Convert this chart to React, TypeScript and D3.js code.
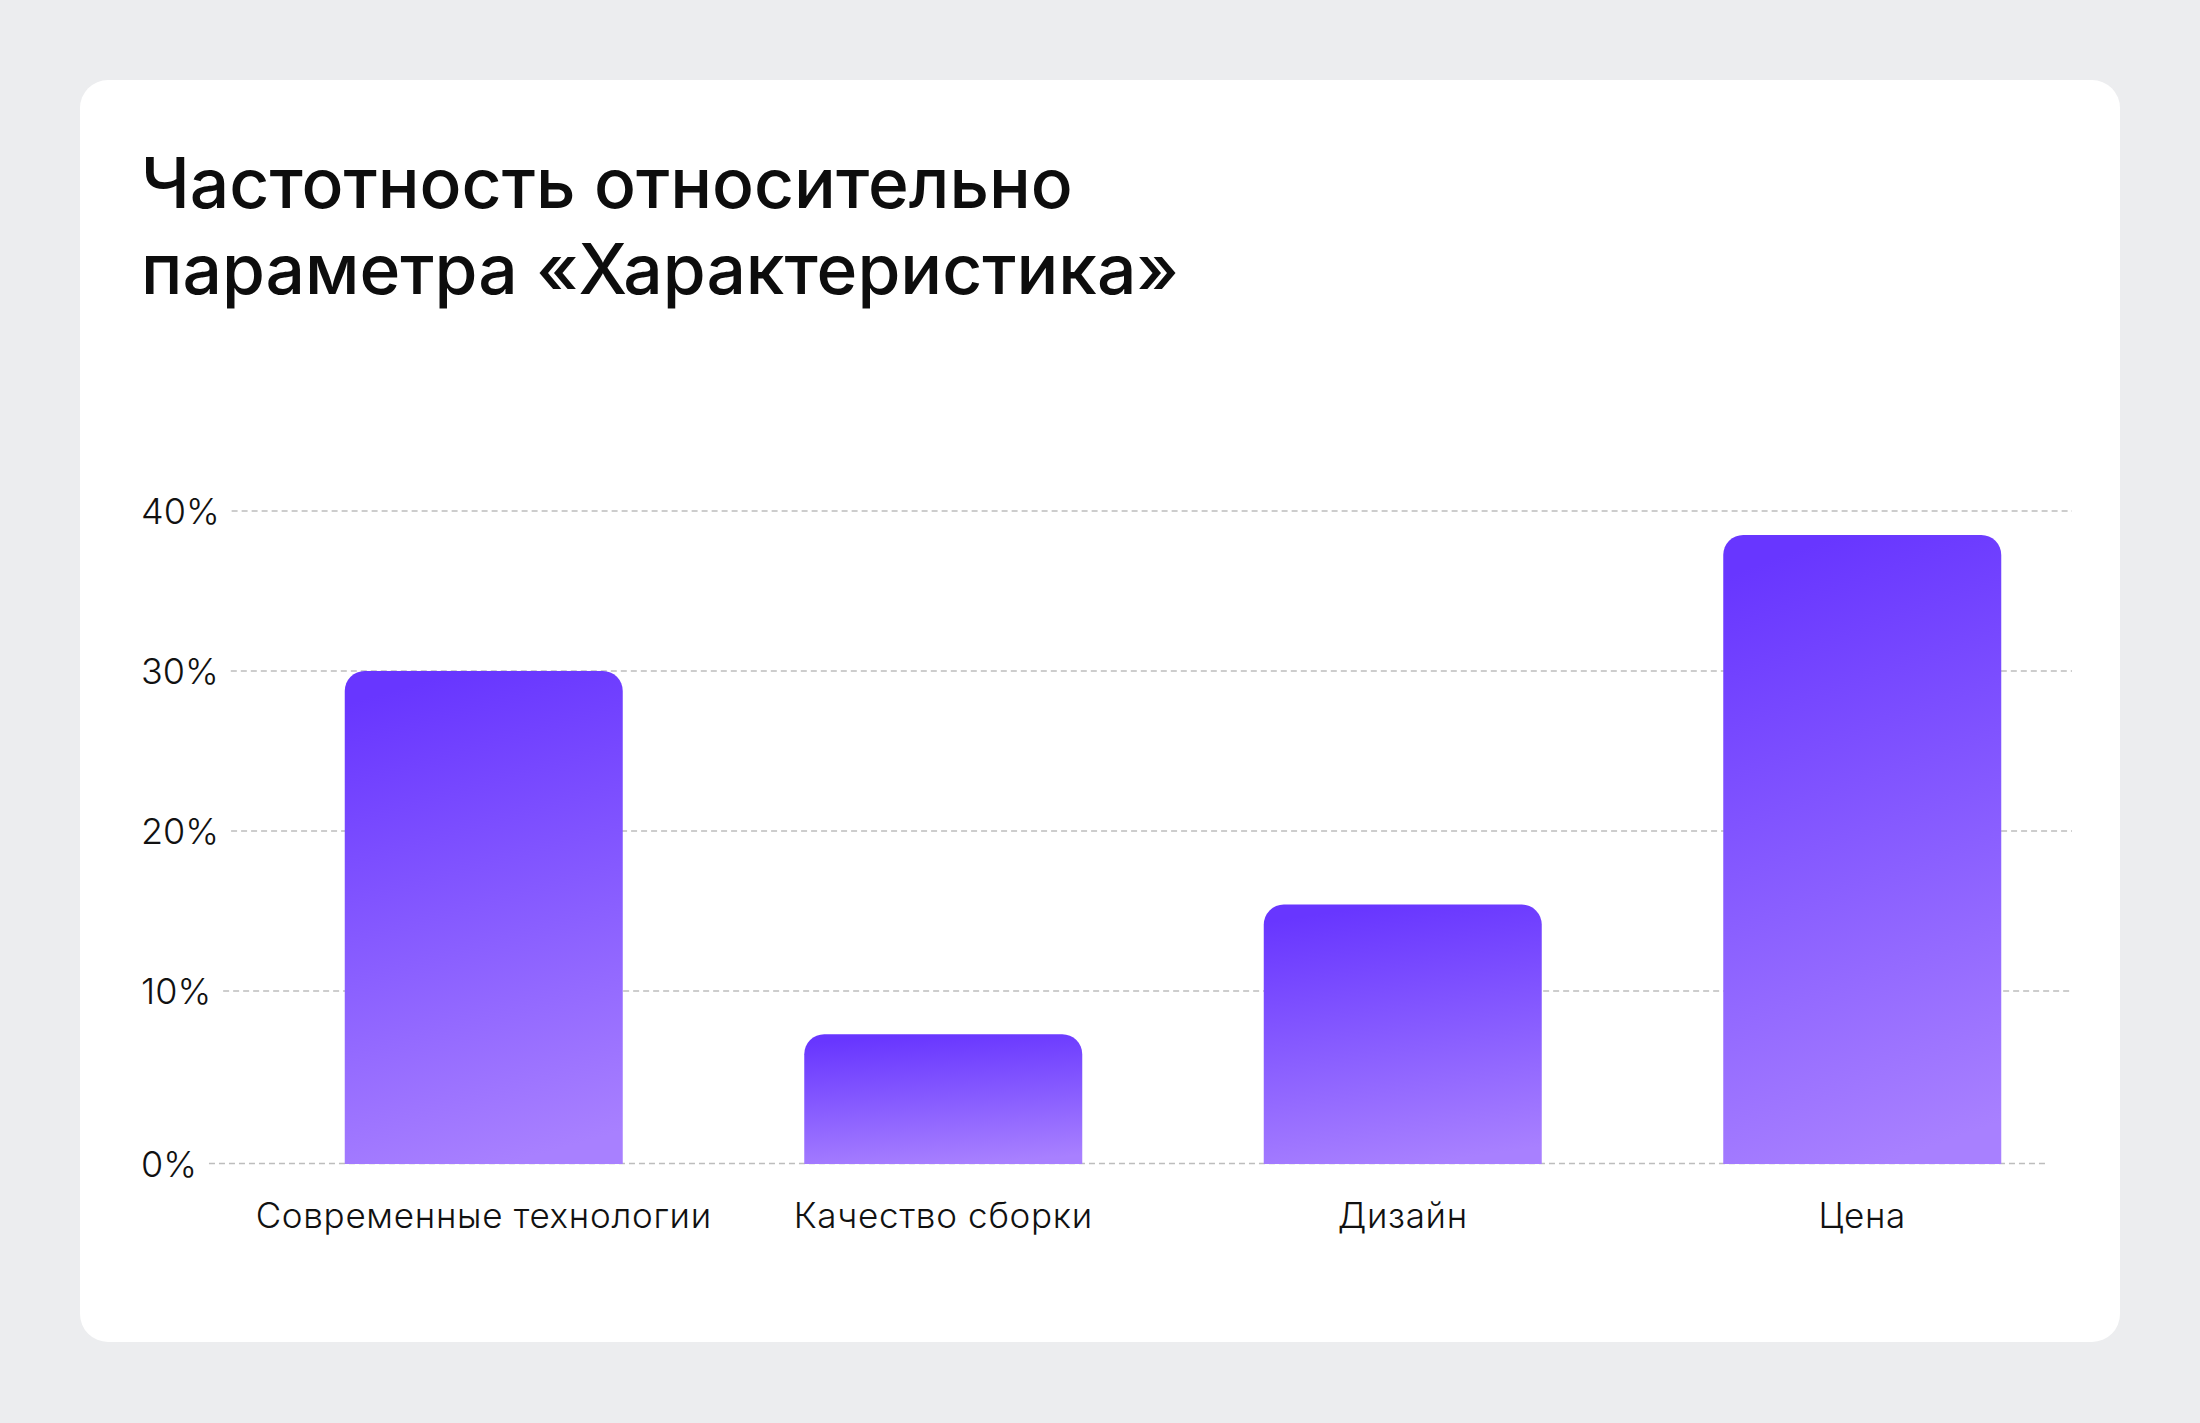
import React, { useEffect, useRef } from "react";
import * as d3 from "d3";

const categories = ["Современные технологии", "Качество сборки", "Дизайн", "Цена"];
const values = [30, 7.3, 15.4, 38.5];
const ticks = [0, 10, 20, 30, 40];
const titleLines = ["Частотность относительно", "параметра «Характеристика»"];

const W = 2200;
const H = 1423;

export default function App() {
  const ref = useRef<SVGSVGElement | null>(null);

  useEffect(() => {
    document.body.style.margin = "0";
    const svg = d3.select(ref.current);
    svg.selectAll("*").remove();

    const defs = svg.append("defs");
    const grad = defs
      .append("linearGradient")
      .attr("id", "barGrad")
      .attr("x1", 0.42)
      .attr("y1", 0)
      .attr("x2", 0.58)
      .attr("y2", 1);
    grad.append("stop").attr("offset", "0%").attr("stop-color", "#6836FF");
    grad.append("stop").attr("offset", "55%").attr("stop-color", "#8A5FFF");
    grad.append("stop").attr("offset", "100%").attr("stop-color", "#A880FF");

    svg.append("rect").attr("width", W).attr("height", H).attr("fill", "#ECEDEF");
    svg
      .append("rect")
      .attr("x", 80)
      .attr("y", 80)
      .attr("width", 2040)
      .attr("height", 1262)
      .attr("rx", 28)
      .attr("fill", "#ffffff");

    // Title
    const title = svg
      .append("text")
      .attr("font-family", "Inter, 'Noto Sans', sans-serif")
      .attr("font-size", 69.5)
      .attr("font-weight", 500)
      .attr("fill", "#0d0d0d");
    titleLines.forEach((t, i) => {
      title
        .append("tspan")
        .attr("x", 141)
        .attr("y", 208 + i * 86)
        .text(t);
    });

    const y = d3.scaleLinear().domain([0, 40]).range([1151, 511]);
    const baseline = 1164;
    const x = d3.scalePoint<string>().domain(categories).range([254, 2092]).padding(0.5);
    const barW = 278;
    const r = 20;

    // Y ticks and gridlines
    const tg = svg.append("g");
    ticks.forEach((t) => {
      const gy = t === 0 ? baseline - 0.5 : y(t);
      const label = tg
        .append("text")
        .attr("x", 141)
        .attr("y", gy + 13)
        .attr("font-family", "Inter, 'Noto Sans', sans-serif")
        .attr("font-size", 36)
        .attr("font-weight", 300)
        .attr("fill", "#111")
        .text(`${t}%`);
      const node = label.node() as SVGTextElement;
      const lw = node.getComputedTextLength();
      tg.append("line")
        .attr("x1", 141 + lw + 12)
        .attr("x2", t === 0 ? 2048 : 2072)
        .attr("y1", gy)
        .attr("y2", gy)
        .attr("stroke", "#BDBDBD")
        .attr("stroke-width", 1.5)
        .attr("stroke-dasharray", "6 4");
    });

    // Bars
    const bars = svg.append("g");
    categories.forEach((c, i) => {
      const cx = x(c) as number;
      const x0 = cx - barW / 2;
      const x1 = cx + barW / 2;
      const top = y(values[i]);
      const path = d3.path();
      path.moveTo(x0, baseline);
      path.lineTo(x0, top + r);
      path.arcTo(x0, top, x0 + r, top, r);
      path.lineTo(x1 - r, top);
      path.arcTo(x1, top, x1, top + r, r);
      path.lineTo(x1, baseline);
      path.closePath();
      bars.append("path").attr("d", path.toString()).attr("fill", "url(#barGrad)");
    });

    // Category labels
    const lg = svg.append("g");
    categories.forEach((c) => {
      lg.append("text")
        .attr("x", x(c) as number)
        .attr("y", 1228)
        .attr("text-anchor", "middle")
        .attr("font-family", "Inter, 'Noto Sans', sans-serif")
        .attr("font-size", 35)
        .attr("font-weight", 300)
        .attr("letter-spacing", 0.7)
        .attr("fill", "#111")
        .text(c);
    });
  }, []);

  return <svg ref={ref} width={W} height={H} style={{ display: "block" }} />;
}
